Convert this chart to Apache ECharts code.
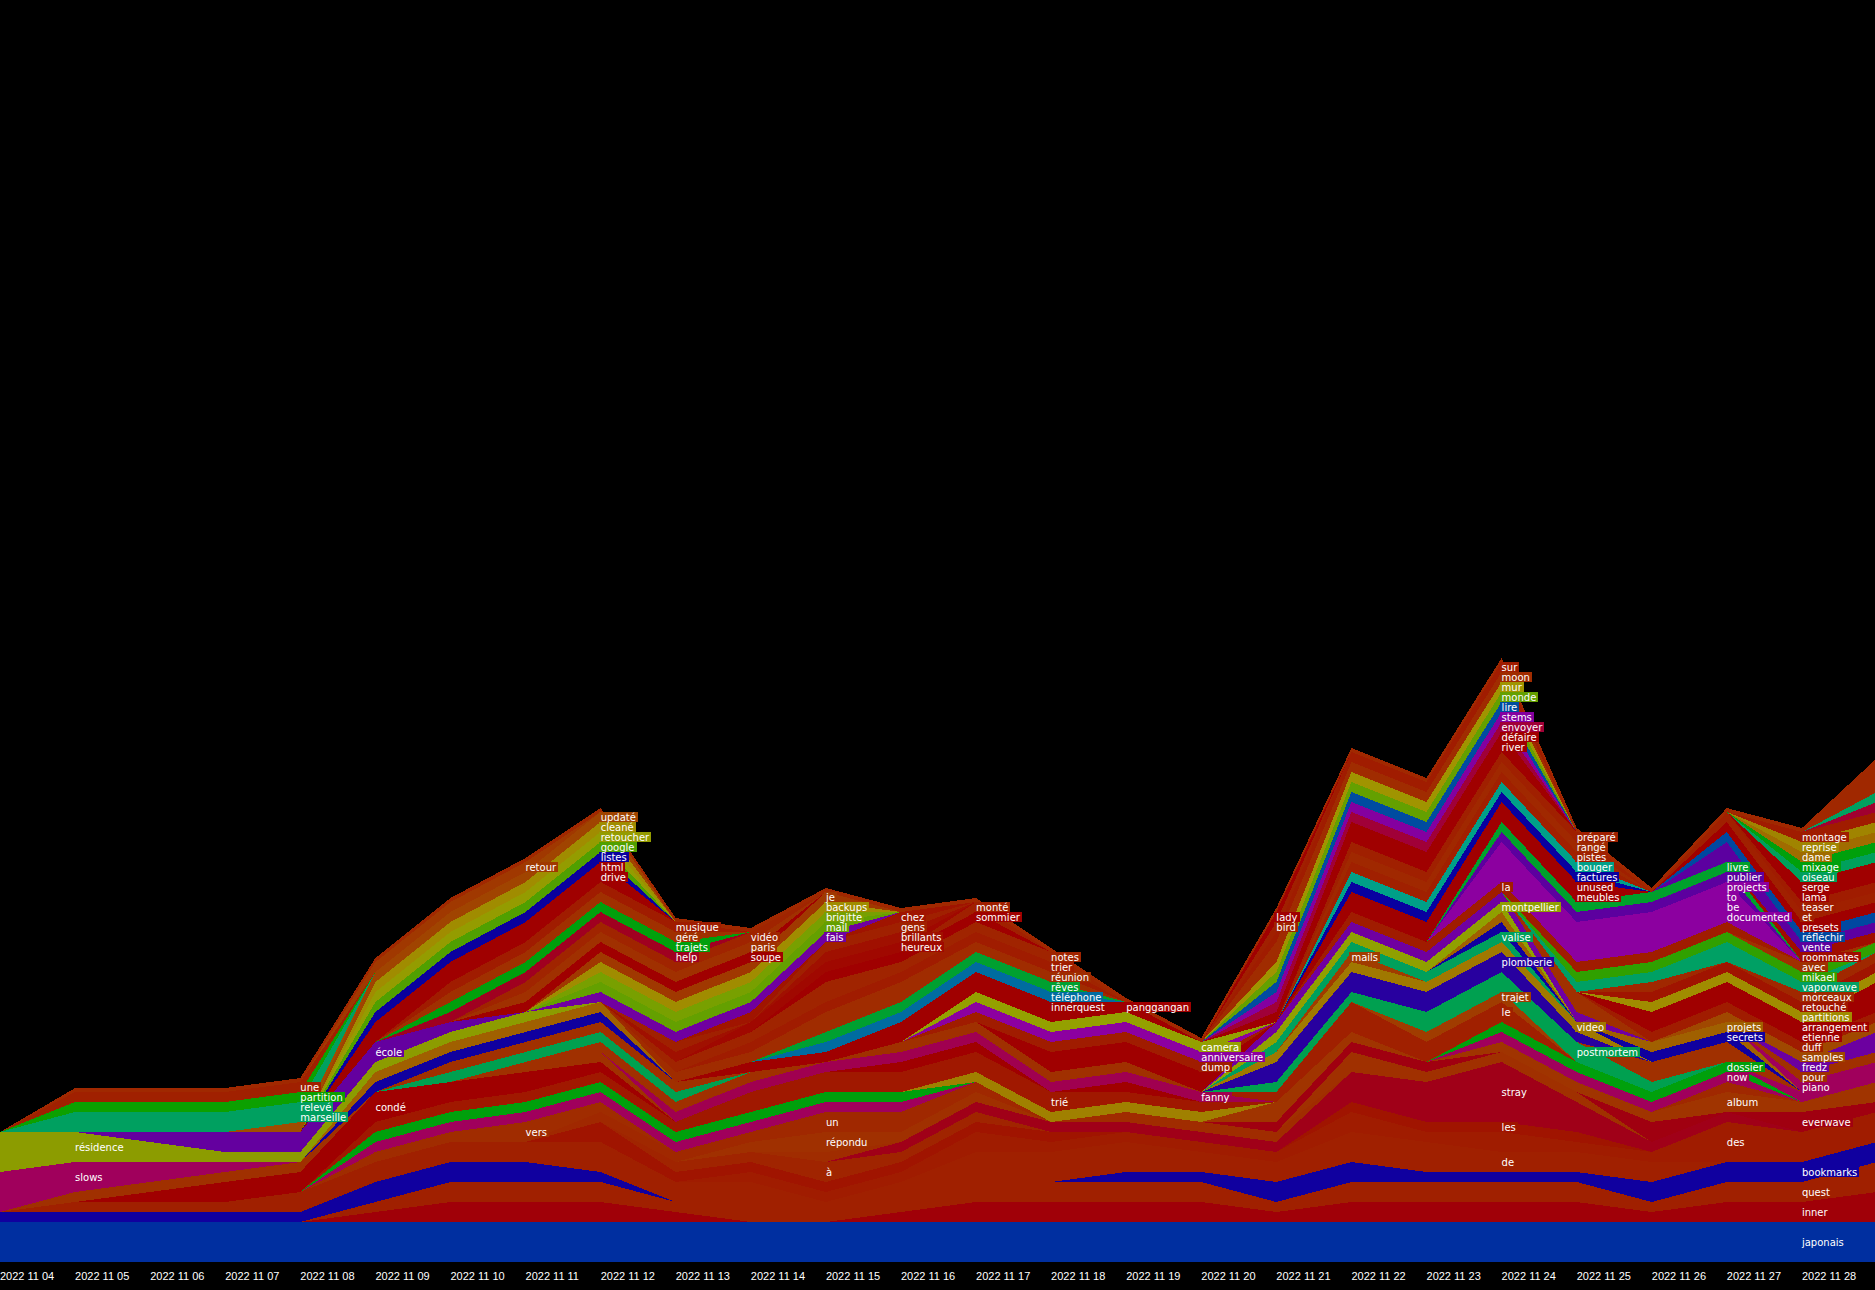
<!DOCTYPE html>
<html><head><meta charset="utf-8">
<style>html,body{margin:0;padding:0;background:#000}#c{width:1875px;height:1290px}svg path{shape-rendering:crispEdges}</style>
<script src="https://cdn.jsdelivr.net/npm/echarts@6/dist/echarts.min.js"></script>
</head><body><div id="c"></div>
<script>
const days = ['2022 11 04','2022 11 05','2022 11 06','2022 11 07','2022 11 08','2022 11 09','2022 11 10','2022 11 11','2022 11 12','2022 11 13','2022 11 14','2022 11 15','2022 11 16','2022 11 17','2022 11 18','2022 11 19','2022 11 20','2022 11 21','2022 11 22','2022 11 23','2022 11 24','2022 11 25','2022 11 26','2022 11 27','2022 11 28',''];

// bottom-to-top stacking order; names starting with "_" carry no visible label
const counts = {
'japonais':   [4,4,4,4,4,4,4,4,4,4,4,4,4,4,4,4,4,4,4,4,4,4,4,4,4,4],
'inner':      [0,0,0,0,0,1,2,2,2,1,0,0,1,2,2,2,2,1,2,2,2,2,1,2,2,3],
'quest':      [0,0,0,0,0,1,2,2,2,1,1,0,1,2,2,2,2,1,2,2,2,2,1,2,2,3],
'bookmarks':  [1,1,1,1,1,2,2,2,1,0,0,0,0,0,0,1,1,2,2,1,1,1,2,2,2,2],
'de':         [0,1,1,1,2,2,2,2,3,2,3,2,2,3,3,3,2,2,3,3,2,2,2,0,0,0],
'des':        [0,0,0,0,0,0,0,0,0,0,1,1,1,2,1,1,1,1,2,1,2,1,1,4,3,3],
'les':        [0,0,0,0,0,0,0,0,2,1,1,1,1,1,1,0,0,0,1,1,1,1,0,0,0,0],
'à':          [0,0,0,0,0,0,0,0,0,1,1,2,1,1,0,0,0,0,0,0,0,0,0,0,0,0],
'stray':      [0,0,0,0,0,0,0,0,0,0,0,0,1,1,1,1,1,1,3,4,6,3,1,1,0,0],
'_f1':        [0,0,0,0,0,0,0,0,0,0,0,1,0,0,0,1,1,1,0,0,0,0,0,0,0,0],
'répondu':    [0,0,0,0,0,0,0,0,0,0,1,2,1,1,0,0,0,0,2,1,1,1,0,0,0,0],
'un':         [0,0,0,0,0,0,0,0,1,1,1,2,2,1,0,0,0,0,0,0,0,0,0,0,0,0],
'vers':       [0,0,0,0,0,1,1,2,1,0,0,0,0,0,0,0,0,0,0,0,0,0,0,0,0,0],
'everwave':   [0,0,0,0,0,0,0,0,0,0,0,0,0,0,0,0,0,1,1,1,0,0,2,0,2,1],
'album':      [0,0,0,0,0,0,0,0,0,0,0,0,0,0,0,0,0,2,1,0,1,1,1,2,1,2],
'_f2':        [0,0,0,0,0,0,0,0,0,0,0,0,0,0,0,0,0,0,0,0,0,0,0,1,0,0],
'now':        [0,0,0,0,0,1,1,1,1,1,1,1,1,0,0,0,0,0,0,0,1,1,1,1,0,0],
'dossier':    [0,0,0,0,0,1,1,1,1,1,1,1,1,0,0,0,0,0,0,0,1,1,1,1,0,0],
'_f5':        [0,0,0,0,0,0,0,0,0,0,0,0,0,1,1,1,1,0,0,0,0,0,0,0,0,0],
'trié':       [0,0,0,0,0,1,1,1,1,1,2,2,2,2,2,1,1,0,0,0,0,0,0,0,0,0],
'condé':      [0,0,1,2,2,3,2,2,1,0,0,0,1,1,0,1,0,0,0,0,0,0,0,0,0,0],
'_s':         [0,1,1,1,1,0,0,1,1,0,0,0,0,0,0,0,0,0,0,0,0,0,0,0,0,0],
'slows':      [4,3,2,1,0,0,0,0,0,0,0,0,0,0,0,0,0,0,0,0,0,0,0,0,1,0],
'fanny':      [0,0,0,0,0,0,0,0,0,1,1,1,1,1,1,1,1,0,0,0,0,0,0,0,0,0],
'_f4':        [0,0,0,0,0,0,0,0,1,1,1,0,1,1,1,1,0,0,0,0,0,0,0,0,0,0],
'le':         [0,0,0,0,0,0,0,0,0,0,0,0,0,0,0,0,0,1,3,2,2,0,0,0,0,0],
'trajet':     [0,0,0,0,0,0,0,0,0,0,0,0,0,0,0,0,0,0,0,1,1,0,0,0,0,0],
'postmortem': [0,0,0,0,0,0,1,1,1,1,0,0,0,0,0,0,0,1,1,2,2,2,1,0,0,0],
'_f6':        [0,0,0,0,0,0,1,1,1,1,0,0,0,0,0,0,0,0,0,0,0,0,2,2,0,0],
'plomberie':  [0,0,0,0,0,0,0,0,0,0,0,0,0,0,0,0,0,2,2,2,2,1,0,0,0,0],
'video':      [0,0,0,0,0,0,0,0,0,0,0,0,0,0,0,0,0,1,1,1,1,1,0,0,0,0],
'secrets':    [0,0,0,0,0,1,1,1,1,0,0,0,0,0,0,0,0,0,0,0,0,0,1,1,0,0],
'projets':    [0,0,0,0,0,1,1,1,1,0,0,0,0,0,0,0,0,0,0,0,0,0,1,1,0,0],
'mails':      [0,0,0,0,0,0,0,0,0,0,0,0,0,0,0,0,0,0,1,0,0,0,0,0,0,0],
'valise':     [0,0,0,0,0,0,0,0,0,0,0,0,0,0,0,0,0,1,1,1,1,0,0,0,0,0],
'_f12':       [0,0,0,0,0,0,0,0,0,0,0,0,0,0,0,0,0,0,0,0,1,0,0,0,0,0],
'_f11':       [0,0,0,0,0,0,0,0,0,0,0,0,0,0,0,0,0,0,0,0,1,0,0,0,0,0],
'montpellier':[0,0,0,0,0,0,0,0,0,0,0,0,0,0,0,0,0,1,1,1,1,0,0,0,0,0],
'_fp':        [0,0,0,0,0,0,0,0,0,0,0,0,0,0,0,0,0,1,1,1,1,1,0,0,0,0],
'_f13':       [0,0,0,0,0,0,0,0,0,0,0,0,0,0,0,0,0,0,0,0,0,2,0,0,0,0],
'résidence':  [4,3,2,1,1,1,1,1,0,0,0,0,0,0,0,0,0,0,0,0,0,0,0,0,0,0],
'école':      [0,0,1,2,2,2,1,0,0,0,0,0,0,0,0,0,0,0,0,0,0,0,0,0,0,0],
'_f14':       [0,0,0,0,0,0,0,0,0,0,0,0,0,0,2,2,2,0,0,0,0,0,0,0,0,0],
'dump':       [0,0,0,0,0,0,0,0,0,0,0,0,0,1,1,1,1,0,0,0,0,0,0,0,0,0],
'anniversaire':[0,0,0,0,0,0,0,0,0,0,0,0,0,1,1,1,1,0,0,0,0,0,0,0,0,0],
'camera':     [0,0,0,0,0,0,0,0,0,0,0,0,0,1,1,1,1,0,0,0,0,0,0,0,0,0],
'panggangan': [0,0,0,0,0,0,0,0,0,0,0,0,0,0,1,1,0,0,0,0,0,0,0,0,0,0],
'innerquest': [0,0,0,0,0,0,0,0,0,0,1,1,2,2,1,0,0,0,0,0,0,0,0,0,0,0],
'téléphone':  [0,0,0,0,0,0,0,0,0,0,0,1,1,1,1,0,0,0,0,0,0,0,0,0,0,0],
'rêves':      [0,0,0,0,0,0,0,0,0,0,0,1,1,1,1,0,0,0,0,0,0,0,0,0,0,0],
'réunion':    [0,0,0,0,0,0,0,0,0,1,1,2,2,1,1,0,0,0,0,0,0,0,0,0,0,0],
'trier':      [0,0,0,0,0,0,0,0,0,0,1,1,1,1,1,0,0,0,0,0,0,0,0,0,0,0],
'notes':      [0,0,0,0,0,0,0,0,0,1,1,2,1,1,1,0,0,0,0,0,0,0,0,0,0,0],
'sommier':    [0,0,0,0,0,0,0,0,0,0,0,1,1,1,0,0,0,0,0,0,0,0,0,0,0,0],
'monté':      [0,0,0,0,0,0,0,0,0,0,0,0,0,1,0,0,0,0,0,0,0,0,0,0,0,0],
'heureux':    [0,0,0,0,0,0,0,0,0,0,1,1,1,0,0,0,0,0,0,0,0,0,0,0,0,0],
'brillants':  [0,0,0,0,0,0,0,0,0,1,0,1,1,0,0,0,0,0,0,0,0,0,0,0,0,0],
'gens':       [0,0,0,0,0,0,0,0,0,1,0,1,1,0,0,0,0,0,0,0,0,0,0,0,0,0],
'chez':       [0,0,0,0,0,0,0,0,0,0,1,0,1,0,0,0,0,0,0,0,0,0,0,0,0,0],
'fais':       [0,0,0,0,0,0,0,0,1,1,1,1,0,0,0,0,0,0,0,0,0,0,0,0,0,0],
'mail':       [0,0,0,0,0,0,0,0,1,1,1,1,0,0,0,0,0,0,0,0,0,0,0,0,0,0],
'brigitte':   [0,0,0,0,0,0,0,0,1,1,1,1,0,0,0,0,0,0,0,0,0,0,0,0,0,0],
'backups':    [0,0,0,0,0,0,0,0,1,1,1,1,0,0,0,0,0,0,0,0,0,0,0,0,0,0],
'je':         [0,0,0,0,0,0,0,0,1,1,1,1,0,0,0,0,0,0,0,0,0,0,0,0,0,0],
'soupe':      [0,0,0,0,0,0,0,1,1,1,1,0,0,0,0,0,0,0,0,0,0,0,0,0,0,0],
'paris':      [0,0,0,0,0,0,0,1,1,1,1,0,0,0,0,0,0,0,0,0,0,0,0,0,0,0],
'vidéo':      [0,0,0,0,0,0,0,1,1,1,1,0,0,0,0,0,0,0,0,0,0,0,0,0,0,0],
'help':       [0,0,0,0,0,0,1,1,1,1,0,0,0,0,0,0,0,0,0,0,0,0,0,0,0,0],
'trajets':    [0,0,0,0,0,0,1,1,1,1,0,0,0,0,0,0,0,0,0,0,0,0,0,0,0,0],
'géré':       [0,0,0,0,0,0,1,1,1,1,0,0,0,0,0,0,0,0,0,0,0,0,0,0,0,0],
'musique':    [0,0,0,0,0,0,1,1,1,1,0,0,0,0,0,0,0,0,0,0,0,0,0,0,0,0],
'drive':      [0,0,0,0,0,1,1,1,1,0,0,0,0,0,0,0,0,0,0,0,0,0,0,0,0,0],
'html':       [0,0,0,0,0,1,1,1,1,0,0,0,0,0,0,0,0,0,0,0,0,0,0,0,0,0],
'listes':     [0,0,0,0,0,1,1,1,1,0,0,0,0,0,0,0,0,0,0,0,0,0,0,0,0,0],
'google':     [0,0,0,0,0,1,1,1,1,0,0,0,0,0,0,0,0,0,0,0,0,0,0,0,0,0],
'retoucher':  [0,0,0,0,0,1,1,1,1,0,0,0,0,0,0,0,0,0,0,0,0,0,0,0,0,0],
'cleané':     [0,0,0,0,0,1,1,1,1,0,0,0,0,0,0,0,0,0,0,0,0,0,0,0,0,0],
'updaté':     [0,0,0,0,0,1,1,1,1,0,0,0,0,0,0,0,0,0,0,0,0,0,0,0,0,0],
'_w':         [0,0,0,0,1,0,0,0,0,0,0,0,0,0,0,0,0,0,0,0,0,0,0,0,0,0],
'marseille':  [0,1,1,1,1,0,0,0,0,0,0,0,0,0,0,0,0,0,0,0,0,0,0,0,0,0],
'relevé':     [0,1,1,1,1,0,0,0,0,0,0,0,0,0,0,0,0,0,0,0,0,0,0,0,0,0],
'partition':  [0,1,1,1,1,0,0,0,0,0,0,0,0,0,0,0,0,0,0,0,0,0,0,0,0,0],
'une':        [0,1,1,1,1,0,0,0,0,0,0,0,0,0,0,0,0,0,0,0,0,0,0,0,0,0],
'retour':     [0,0,0,0,0,1,1,1,0,0,0,0,0,0,0,0,0,0,0,0,0,0,0,0,0,0],
'piano':      [0,0,0,0,0,0,0,0,0,0,0,0,0,0,0,0,0,0,0,0,0,0,0,0,1,2],
'pour':       [0,0,0,0,0,0,0,0,0,0,0,0,0,0,0,0,0,0,0,0,0,0,0,0,1,1],
'fredz':      [0,0,0,0,0,0,0,0,0,0,0,0,0,0,0,0,0,0,0,0,0,0,0,0,1,2],
'samples':    [0,0,0,0,0,0,0,0,0,0,0,0,0,0,0,0,0,0,0,0,0,0,0,1,1,1],
'duff':       [0,0,0,0,0,0,0,0,0,0,0,0,0,0,0,0,0,0,0,0,0,0,1,1,1,1],
'etienne':    [0,0,0,0,0,0,0,0,0,0,0,0,0,0,0,0,0,0,0,0,0,0,1,1,1,1],
'arrangement':[0,0,0,0,0,0,0,0,0,0,0,0,0,0,0,0,0,0,0,0,0,0,1,1,1,2],
'partitions': [0,0,0,0,0,0,0,0,0,0,0,0,0,0,0,0,0,0,0,0,0,0,1,1,1,1],
'retouché':   [0,0,0,0,0,0,0,0,0,0,0,0,0,0,0,0,0,0,0,0,0,0,1,1,1,1],
'morceaux':   [0,0,0,0,0,0,0,0,0,0,0,0,0,0,0,0,0,0,0,0,0,0,1,0,1,1],
'vaporwave':  [0,0,0,0,0,0,0,0,0,0,0,0,0,0,0,0,0,0,0,0,0,1,1,2,1,0],
'mikael':     [0,0,0,0,0,0,0,0,0,0,0,0,0,0,0,0,0,0,0,0,0,1,1,1,1,1],
'avec':       [0,0,0,0,0,0,0,0,0,0,0,0,0,0,0,0,0,0,0,0,0,0,0,0,1,0],
'la':         [0,0,0,0,0,0,0,0,0,0,0,0,0,0,0,0,0,0,1,1,1,1,1,1,0,0],
'documented': [0,0,0,0,0,0,0,0,0,0,0,0,0,0,0,0,0,0,0,0,1,1,1,1,0,0],
'be':         [0,0,0,0,0,0,0,0,0,0,0,0,0,0,0,0,0,0,0,0,1,1,1,1,0,0],
'to':         [0,0,0,0,0,0,0,0,0,0,0,0,0,0,0,0,0,0,0,0,1,1,1,1,0,0],
'projects':   [0,0,0,0,0,0,0,0,0,0,0,0,0,0,0,0,0,0,0,0,1,1,1,1,0,0],
'publier':    [0,0,0,0,0,0,0,0,0,0,0,0,0,0,0,0,0,0,0,0,1,1,1,1,0,0],
'livre':      [0,0,0,0,0,0,0,0,0,0,0,0,0,0,0,0,0,0,0,0,1,1,1,1,0,0],
'meubles':    [0,0,0,0,0,0,0,0,0,0,0,0,0,0,0,0,0,0,1,1,1,1,0,0,0,0],
'unused':     [0,0,0,0,0,0,0,0,0,0,0,0,0,0,0,0,0,0,1,1,1,1,0,0,0,0],
'factures':   [0,0,0,0,0,0,0,0,0,0,0,0,0,0,0,0,0,0,1,1,1,1,0,0,0,0],
'bouger':     [0,0,0,0,0,0,0,0,0,0,0,0,0,0,0,0,0,0,1,1,1,1,0,0,0,0],
'pistes':     [0,0,0,0,0,0,0,0,0,0,0,0,0,0,0,0,0,0,1,1,1,1,0,0,0,0],
'rangé':      [0,0,0,0,0,0,0,0,0,0,0,0,0,0,0,0,0,0,1,1,1,1,0,0,0,0],
'préparé':    [0,0,0,0,0,0,0,0,0,0,0,0,0,0,0,0,0,0,1,1,1,1,0,0,0,0],
'river':      [0,0,0,0,0,0,0,0,0,0,0,0,0,0,0,0,0,1,1,1,1,0,0,0,0,0],
'défaire':    [0,0,0,0,0,0,0,0,0,0,0,0,0,0,0,0,0,0,1,1,1,0,0,0,0,0],
'envoyer':    [0,0,0,0,0,0,0,0,0,0,0,0,0,0,0,0,0,1,1,1,1,0,0,0,0,0],
'stems':      [0,0,0,0,0,0,0,0,0,0,0,0,0,0,0,0,0,1,1,1,1,0,0,0,0,0],
'lire':       [0,0,0,0,0,0,0,0,0,0,0,0,0,0,0,0,0,1,1,1,1,0,0,0,0,0],
'monde':      [0,0,0,0,0,0,0,0,0,0,0,0,0,0,0,0,0,1,1,1,1,0,0,0,0,0],
'mur':        [0,0,0,0,0,0,0,0,0,0,0,0,0,0,0,0,0,1,1,1,1,0,0,0,0,0],
'moon':       [0,0,0,0,0,0,0,0,0,0,0,0,0,0,0,0,0,2,1,1,1,0,0,0,0,0],
'sur':        [0,0,0,0,0,0,0,0,0,0,0,0,0,0,0,0,0,1,1,1,1,0,0,0,0,0],
'bird':       [0,0,0,0,0,0,0,0,0,0,0,0,0,0,0,0,0,1,0,0,0,0,0,0,0,0],
'lady':       [0,0,0,0,0,0,0,0,0,0,0,0,0,0,0,0,0,1,0,0,0,0,0,0,0,0],
'roommates':  [0,0,0,0,0,0,0,0,0,0,0,0,0,0,0,0,0,0,0,0,0,0,0,0,1,1],
'vente':      [0,0,0,0,0,0,0,0,0,0,0,0,0,0,0,0,0,0,0,0,0,0,0,2,1,1],
'réfléchir':  [0,0,0,0,0,0,0,0,0,0,0,0,0,0,0,0,0,0,0,0,0,0,0,1,1,1],
'presets':    [0,0,0,0,0,0,0,0,0,0,0,0,0,0,0,0,0,0,0,0,0,0,0,1,1,1],
'et':         [0,0,0,0,0,0,0,0,0,0,0,0,0,0,0,0,0,0,0,0,0,0,0,1,1,1],
'teaser':     [0,0,0,0,0,0,0,0,0,0,0,0,0,0,0,0,0,0,0,0,0,0,0,0,1,1],
'lama':       [0,0,0,0,0,0,0,0,0,0,0,0,0,0,0,0,0,0,0,0,0,0,0,0,1,1],
'serge':      [0,0,0,0,0,0,0,0,0,0,0,0,0,0,0,0,0,0,0,0,0,0,0,0,1,1],
'oiseau':     [0,0,0,0,0,0,0,0,0,0,0,0,0,0,0,0,0,0,0,0,0,0,0,0,1,1],
'mixage':     [0,0,0,0,0,0,0,0,0,0,0,0,0,0,0,0,0,0,0,0,0,0,0,0,1,1],
'dame':       [0,0,0,0,0,0,0,0,0,0,0,0,0,0,0,0,0,0,0,0,0,0,0,0,1,1],
'reprise':    [0,0,0,0,0,0,0,0,0,0,0,0,0,0,0,0,0,0,0,0,0,0,0,0,1,1],
'montage':    [0,0,0,0,0,0,0,0,0,0,0,0,0,0,0,0,0,0,0,0,0,0,0,0,1,1],
'_fc':        [0,0,0,0,0,0,0,0,0,0,0,0,0,0,0,0,0,0,0,0,0,0,0,0,0,1],
'_ft':        [0,0,0,0,0,0,0,0,0,0,0,0,0,0,0,0,0,0,0,0,0,0,0,0,0,1],
'_fb':        [0,0,0,0,0,0,0,0,0,0,0,0,0,0,0,0,0,0,0,0,0,0,0,0,0,3],
'_edge':      [0,.4,.4,.4,.4,.4,.4,.4,.4,.4,.4,.4,.4,.4,.4,.4,.4,.4,.4,.4,.4,.4,.4,.4,.4,.4]
};

const colors = {
japonais:'#002fa0',inner:'#a00008',quest:'#a02000',bookmarks:'#10009f',de:'#a02000',des:'#a01c00',les:'#a01400','à':'#a02400',stray:'#a00018',_f1:'#a02c00','répondu':'#a03000',un:'#a02800',vers:'#a02c00',everwave:'#a00010',album:'#a03400',_f2:'#a02800',
now:'#a0005c',dossier:'#00a00c',_f5:'#a08000','trié':'#a01800','condé':'#a00000',_s:'#a03000',slows:'#a0005c',fanny:'#a00050',_f4:'#a03000',le:'#a02000',trajet:'#a03c00',postmortem:'#00a050',_f6:'#a03000',plomberie:'#28009f',video:'#a07800',secrets:'#10009f',projets:'#a06000',mails:'#a03c00',valise:'#00a05c',_f12:'#10009f',_f11:'#a06000',montpellier:'#90a000',_fp:'#7000a0',_f13:'#a03000',
'résidence':'#8c9c00','école':'#64009f',_f14:'#a00000',dump:'#a01c00',anniversaire:'#8c00a0',camera:'#94a000',panggangan:'#a00000',innerquest:'#a00000','téléphone':'#006ca0','rêves':'#00a030','réunion':'#a02c00',trier:'#a01c00',notes:'#a02400',sommier:'#a00000','monté':'#a02000',heureux:'#a00800',brillants:'#a01000',gens:'#a02000',chez:'#a01400',
fais:'#7000a0',mail:'#64a000',brigitte:'#78a000',backups:'#a08c00',je:'#a03800',soupe:'#a00000',paris:'#a03000','vidéo':'#a02400',help:'#a00020',trajets:'#00a00c','géré':'#a03000',musique:'#a01c00',drive:'#a00000',html:'#a00000',listes:'#0a009f',google:'#50a000',retoucher:'#949c00','cleané':'#a08c00','updaté':'#a04400',_w:'#a04c00',marseille:'#00a060','relevé':'#00a060',partition:'#0ca000',une:'#a02000',retour:'#a03800',
piano:'#a0005c',pour:'#a03000',fredz:'#6c00a0',samples:'#a04800',duff:'#a01c00',etienne:'#a00000',arrangement:'#a00000',partitions:'#a08c00','retouché':'#a01400',morceaux:'#a02800',vaporwave:'#00a064',mikael:'#30a000',avec:'#a03000',la:'#a01c00',documented:'#8c00a0',be:'#8c00a0',to:'#8c00a0',projects:'#8c00a0',publier:'#5c009f',livre:'#00a02c',meubles:'#a00000',unused:'#a00000',factures:'#0800a0',bouger:'#00a088',pistes:'#a02000','rangé':'#a02800','préparé':'#a02000',river:'#a00000','défaire':'#a00000',envoyer:'#a00038',stems:'#8400a0',lire:'#004ca0',monde:'#64a000',mur:'#a09400',moon:'#a02c00',sur:'#a01c00',bird:'#a02000',lady:'#a00000',roommates:'#a00c00',vente:'#5c00a0','réfléchir':'#0048a0',presets:'#a00000',et:'#a02000',teaser:'#a01c00',lama:'#a00000',serge:'#a00000',oiseau:'#00a05c',mixage:'#00a00c',dame:'#a06c00',reprise:'#a08400',montage:'#a01c00',_fc:'#a00030',_ft:'#00a060',_fb:'#a02800',_edge:'#a02800'
};

// day index where each word's label sits
const labelDay = {
'résidence':1,slows:1,une:4,partition:4,'relevé':4,marseille:4,'école':5,'condé':5,retour:7,vers:7,
'updaté':8,'cleané':8,retoucher:8,google:8,listes:8,html:8,drive:8,musique:9,'géré':9,trajets:9,help:9,'vidéo':10,paris:10,soupe:10,
je:11,backups:11,brigitte:11,mail:11,fais:11,un:11,'répondu':11,'à':11,chez:12,gens:12,brillants:12,heureux:12,'monté':13,sommier:13,
notes:14,trier:14,'réunion':14,'rêves':14,'téléphone':14,innerquest:14,'trié':14,panggangan:15,camera:16,anniversaire:16,dump:16,fanny:16,lady:17,bird:17,mails:18,
sur:20,moon:20,mur:20,monde:20,lire:20,stems:20,envoyer:20,'défaire':20,river:20,la:20,montpellier:20,valise:20,plomberie:20,trajet:20,le:20,stray:20,les:20,de:20,
'préparé':21,'rangé':21,pistes:21,bouger:21,factures:21,unused:21,meubles:21,video:21,postmortem:21,
livre:23,publier:23,projects:23,to:23,be:23,documented:23,projets:23,secrets:23,dossier:23,now:23,album:23,des:23,
montage:24,reprise:24,dame:24,mixage:24,oiseau:24,serge:24,lama:24,teaser:24,et:24,presets:24,'réfléchir':24,vente:24,roommates:24,avec:24,mikael:24,vaporwave:24,morceaux:24,'retouché':24,partitions:24,arrangement:24,etienne:24,duff:24,samples:24,fredz:24,pour:24,piano:24,everwave:24,bookmarks:24,quest:24,inner:24,japonais:24
};

const UNIT_PX = 10;      // one count is 10px tall (grid height / axis max)
const series = Object.keys(counts).map(function (name) {
  const color = colors[name];
  const day = labelDay[name];
  const vals = counts[name];
  const s = {
    type: 'line', name: name, stack: 'words', silent: true,
    showSymbol: true, showAllSymbol: true, symbol: 'circle', symbolSize: 0,
    lineStyle: { width: 0 }, itemStyle: { color: color },
    areaStyle: { color: color, opacity: 1 }, animation: false, clip: false,
    data: vals.map(function (v, i) {
      if (i !== day) return { value: v };
      return { value: v, label: {
        show: true, formatter: name, position: 'right', distance: 0, color: '#fff',
        fontFamily: 'DejaVu Sans', fontSize: 10, lineHeight: 10,
        backgroundColor: color, padding: [0, 2]
      } };
    })
  };
  if (day != null) s.labelLayout = { dx: -2, dy: vals[day] * UNIT_PX / 2 };
  return s;
});

const chart = echarts.init(document.getElementById('c'), null, { renderer: 'svg', width: 1875, height: 1290 });
chart.setOption({
  backgroundColor: '#000', animation: false,
  grid: { left: 0, right: -2, top: 2, bottom: 28, outerBoundsMode: 'none' },
  tooltip: { show: false }, legend: { show: false },
  xAxis: { type: 'category', boundaryGap: false, data: days,
    axisLine: { show: false }, axisTick: { show: false }, splitLine: { show: false },
    axisLabel: { interval: 0, align: 'left', color: '#fff', fontFamily: 'Liberation Sans', fontSize: 11, margin: 8, showMaxLabel: true, showMinLabel: true, hideOverlap: false } },
  yAxis: { type: 'value', min: 0, max: 126, show: false, splitLine: { show: false } },
  series: series
});
</script></body></html>
